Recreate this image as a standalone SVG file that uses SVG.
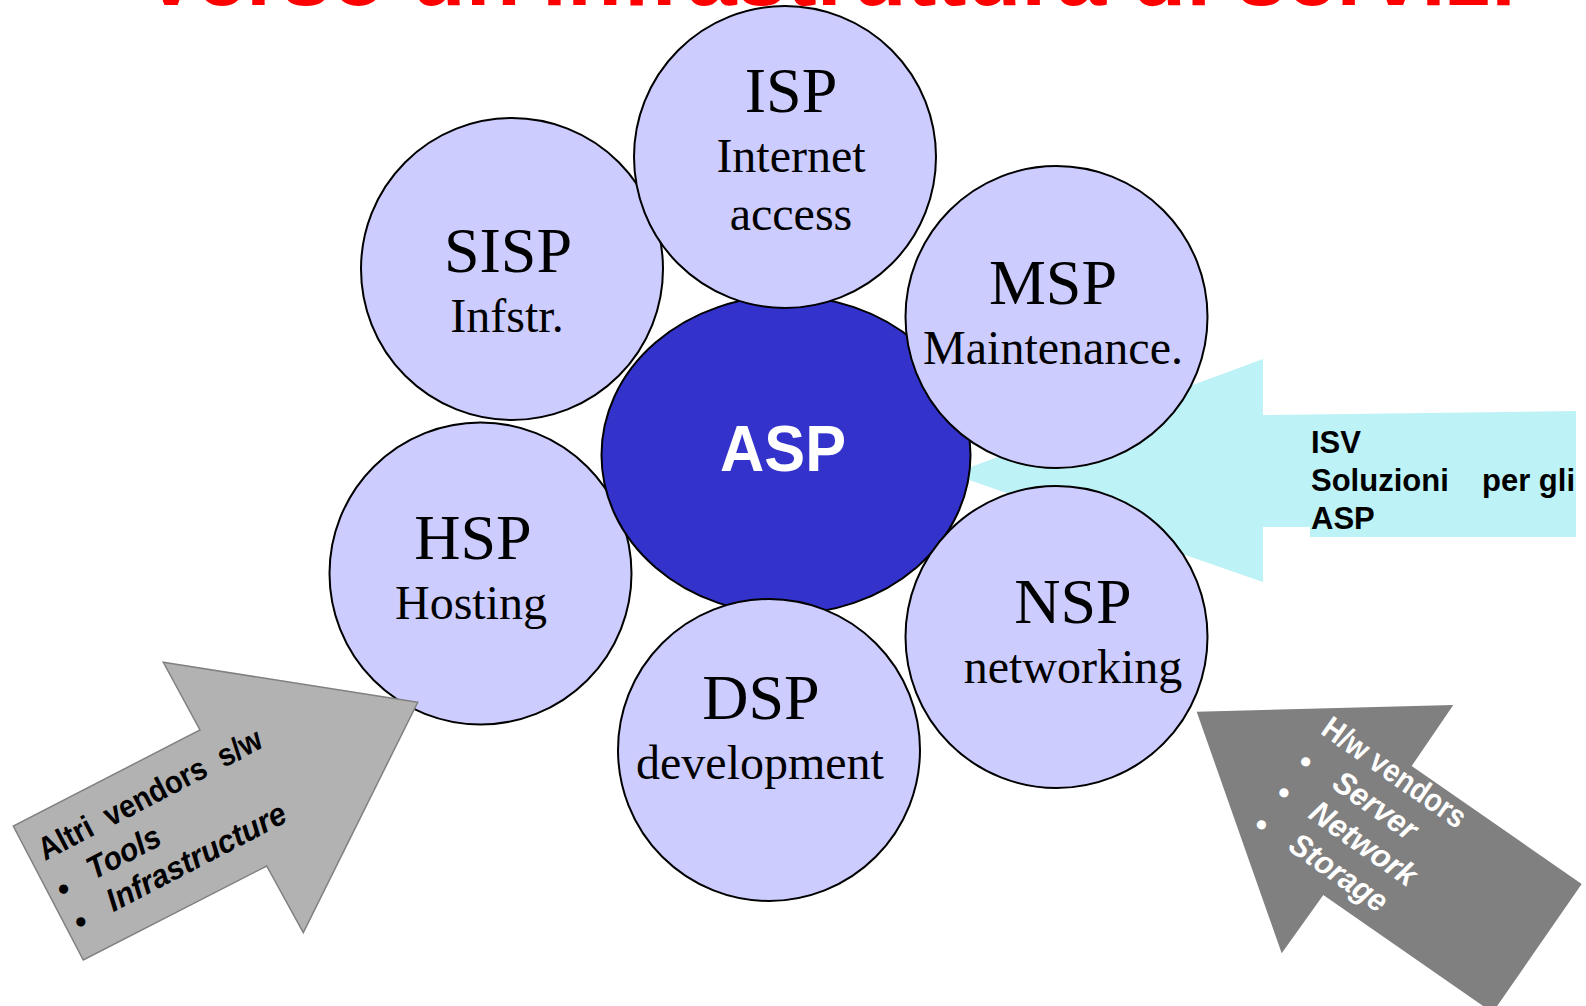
<svg xmlns="http://www.w3.org/2000/svg" width="1586" height="1006" viewBox="0 0 1586 1006">
  <style>
    .bubble { fill: #ccccff; stroke: #000000; stroke-width: 2; }
    .core { fill: #3333cc; stroke: #000000; stroke-width: 2; }
    .serif { font-family: "Liberation Serif", "Times New Roman", serif; fill: #000000; text-anchor: middle; }
    .big { font-size: 64px; }
    .small { font-size: 48px; }
    .sans { font-family: "Liberation Sans", Arial, sans-serif; font-weight: bold; }
    .arrowtxt { font-family: "Liberation Sans", Arial, sans-serif; font-weight: bold; font-size: 32px; }
    .it { font-style: italic; }
  </style>
  <rect x="0" y="0" width="1586" height="1006" fill="#ffffff"/>

  <g id="title">
    <text class="sans" x="141" y="5" font-size="88" fill="#ff0000" textLength="1375" lengthAdjust="spacingAndGlyphs">Verso un'infrastruttura di servizi</text>
  </g>

  <g id="connectors"></g>

  <g id="arrow-isv">
    <polygon points="952,474 1263,359 1263,415 1576,411 1576,527 1263,527 1263,582" fill="#bdf2f7"/>
    <rect x="1310" y="420" width="266" height="117" fill="#bdf2f7"/>
    <text class="sans" font-size="31" fill="#000000">
      <tspan x="1311" y="453">ISV</tspan>
      <tspan x="1311" y="491">Soluzioni</tspan><tspan x="1482" y="491">per gli</tspan>
      <tspan x="1311" y="529">ASP</tspan>
    </text>
  </g>

  <g id="node-sisp">
    <circle class="bubble" cx="512" cy="269" r="151"/>
    <text class="serif big" x="508" y="272">SISP</text>
    <text class="serif small" x="507" y="332">Infstr.</text>
  </g>

  <g id="node-hsp">
    <circle class="bubble" cx="480.5" cy="573.5" r="151"/>
    <text class="serif big" x="473" y="559">HSP</text>
    <text class="serif small" x="471" y="619">Hosting</text>
  </g>

  <g id="node-asp">
    <ellipse class="core" cx="786" cy="455" rx="184.5" ry="159"/>
    <text class="sans" x="783" y="471" font-size="64" fill="#ffffff" text-anchor="middle" textLength="126" lengthAdjust="spacingAndGlyphs">ASP</text>
  </g>

  <g id="node-isp">
    <circle class="bubble" cx="785" cy="157" r="151"/>
    <text class="serif big" x="791" y="112">ISP</text>
    <text class="serif small" x="791" y="172">Internet</text>
    <text class="serif small" x="791" y="230">access</text>
  </g>

  <g id="node-msp">
    <circle class="bubble" cx="1056.5" cy="317" r="151"/>
    <text class="serif big" x="1053" y="304">MSP</text>
    <text class="serif small" x="1053" y="364">Maintenance.</text>
  </g>

  <g id="node-nsp">
    <circle class="bubble" cx="1056.5" cy="637" r="151"/>
    <text class="serif big" x="1073" y="623">NSP</text>
    <text class="serif small" x="1073" y="683">networking</text>
  </g>

  <g id="node-dsp">
    <circle class="bubble" cx="769" cy="750" r="151"/>
    <text class="serif big" x="761" y="719">DSP</text>
    <text class="serif small" x="760" y="779">development</text>
  </g>

  <g id="arrow-sw">
    <polygon points="417.7,702.3 163.3,662.3 200,730 13.3,826 83.3,960 266.7,866 303.3,932.7" fill="#b2b2b2" stroke="#808080" stroke-width="1.5" stroke-linejoin="miter"/>
    <g transform="translate(45,861) rotate(-27.5)" fill="#000000" class="arrowtxt">
      <text x="0" y="0" xml:space="preserve" textLength="248" lengthAdjust="spacingAndGlyphs">Altri  vendors  s/w</text>
      <text x="-2" y="44">•</text>
      <text x="-2" y="81">•</text>
      <text class="it" x="34" y="39.5" textLength="79" lengthAdjust="spacingAndGlyphs">Tools</text>
      <text class="it" x="37" y="77" textLength="198" lengthAdjust="spacingAndGlyphs">Infrastructure</text>
    </g>
  </g>

  <g id="arrow-hw">
    <polygon points="1196.7,711.7 1453.3,705 1411.7,766 1581.7,884 1492.6,1012.6 1323.3,895 1281.7,953.3" fill="#808080"/>
    <g transform="translate(1306,762.7) rotate(35)" fill="#ffffff" class="arrowtxt">
      <text x="-6" y="-32" textLength="168" lengthAdjust="spacingAndGlyphs">H/w vendors</text>
      <text x="-6.5" y="10">•</text>
      <text x="-6.5" y="48">•</text>
      <text x="-6.5" y="87">•</text>
      <text class="it" x="34" y="6" textLength="95" lengthAdjust="spacingAndGlyphs">Server</text>
      <text class="it" x="32" y="44" textLength="123" lengthAdjust="spacingAndGlyphs">Network</text>
      <text class="it" x="34" y="82" textLength="112" lengthAdjust="spacingAndGlyphs">Storage</text>
    </g>
  </g>
</svg>
